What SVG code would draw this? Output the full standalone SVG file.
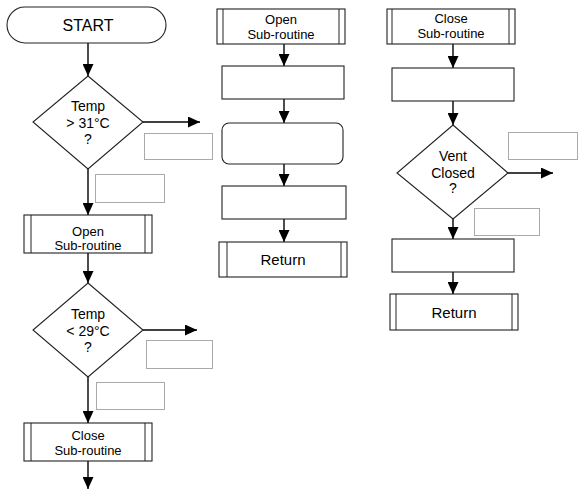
<svg xmlns="http://www.w3.org/2000/svg" width="584" height="494" viewBox="0 0 584 494">
<defs>
<marker id="ah" markerUnits="userSpaceOnUse" markerWidth="13" markerHeight="11" viewBox="0 0 13 11" refX="12" refY="5.5" orient="auto">
<path d="M0,0 L12,5.5 L0,11 Z" fill="#000"/>
</marker>
<style>
.b{fill:#fff;stroke:#222;stroke-width:1.1}
.in{stroke:#222;stroke-width:1}
.d{fill:none;stroke:#555;stroke-width:1;stroke-dasharray:1 1}
.c{fill:none;stroke:#000;stroke-width:1.4;marker-end:url(#ah)}
text{font-family:"Liberation Sans",Arial,sans-serif;fill:#000;text-anchor:middle}
.t14{font-size:14px}
.t13{font-size:13px}
.t15{font-size:15px}
.t16{font-size:16px}
</style>
</defs>
<rect width="584" height="494" fill="#fff"/>

<g id="connectors">
<line class="c" x1="88" y1="43" x2="88" y2="76"/>
<line class="c" x1="143" y1="122" x2="200" y2="122"/>
<line class="c" x1="88" y1="169" x2="88" y2="215"/>
<line class="c" x1="88" y1="253" x2="88" y2="283"/>
<line class="c" x1="143" y1="330" x2="197" y2="330"/>
<line class="c" x1="88" y1="377" x2="88" y2="423"/>
<line class="c" x1="88" y1="461" x2="88" y2="489"/>

<line class="c" x1="284" y1="44" x2="284" y2="66"/>
<line class="c" x1="284" y1="99" x2="284" y2="123"/>
<line class="c" x1="284" y1="164" x2="284" y2="186"/>
<line class="c" x1="284" y1="219" x2="284" y2="242"/>

<line class="c" x1="453" y1="44" x2="453" y2="68"/>
<line class="c" x1="453" y1="101" x2="453" y2="125"/>
<line class="c" x1="508" y1="173" x2="553" y2="173"/>
<line class="c" x1="453" y1="219" x2="453" y2="239"/>
<line class="c" x1="453" y1="272" x2="453" y2="294"/>
</g>

<g id="start">
<rect class="b" x="7" y="7" width="159" height="36" rx="18"/>
<text class="t16" x="88" y="31">START</text>
</g>

<g id="dec1">
<polygon class="b" points="88,76 143,122 88,169 33,122"/>
<text class="t14" x="88" y="111">Temp</text>
<text class="t14" x="88" y="128">&gt; 31°C</text>
<text class="t14" x="88" y="144">?</text>
</g>
<g id="lbl1r"><rect class="d" x="144.5" y="133.5" width="68" height="26"/></g>
<g id="lbl1b"><rect class="d" x="95.5" y="174.5" width="69" height="28"/></g>

<g id="open1">
<rect class="b" x="24" y="215" width="128" height="38"/>
<line class="in" x1="31" y1="215" x2="31" y2="253"/>
<line class="in" x1="145" y1="215" x2="145" y2="253"/>
<text class="t13" x="88" y="236">Open</text>
<text class="t13" x="88" y="250">Sub-routine</text>
</g>

<g id="dec2">
<polygon class="b" points="88,283 143,330 88,377 33,330"/>
<text class="t14" x="88" y="319">Temp</text>
<text class="t14" x="88" y="336">&lt; 29°C</text>
<text class="t14" x="88" y="352">?</text>
</g>
<g id="lbl2r"><rect class="d" x="146.5" y="340.5" width="66" height="28"/></g>
<g id="lbl2b"><rect class="d" x="96.5" y="382.5" width="68" height="27"/></g>

<g id="close1">
<rect class="b" x="24" y="423" width="128" height="38"/>
<line class="in" x1="31" y1="423" x2="31" y2="461"/>
<line class="in" x1="145" y1="423" x2="145" y2="461"/>
<text class="t13" x="88" y="440">Close</text>
<text class="t13" x="88" y="455">Sub-routine</text>
</g>

<g id="open2">
<rect class="b" x="217" y="9" width="128" height="35"/>
<line class="in" x1="223" y1="9" x2="223" y2="44"/>
<line class="in" x1="339" y1="9" x2="339" y2="44"/>
<text class="t13" x="281" y="24">Open</text>
<text class="t13" x="281" y="39">Sub-routine</text>
</g>
<g id="box2a"><rect class="b" x="222" y="66" width="122" height="33"/></g>
<g id="box2b"><rect class="b" x="222" y="123" width="121" height="41" rx="7"/></g>
<g id="box2c"><rect class="b" x="222" y="186" width="124" height="33"/></g>
<g id="return2">
<rect class="b" x="219" y="242" width="128" height="35"/>
<line class="in" x1="227" y1="242" x2="227" y2="277"/>
<line class="in" x1="341" y1="242" x2="341" y2="277"/>
<text class="t15" x="283" y="265">Return</text>
</g>

<g id="close2">
<rect class="b" x="387" y="9" width="128" height="35"/>
<line class="in" x1="392" y1="9" x2="392" y2="44"/>
<line class="in" x1="509" y1="9" x2="509" y2="44"/>
<text class="t13" x="451" y="23">Close</text>
<text class="t13" x="451" y="38">Sub-routine</text>
</g>
<g id="box3a"><rect class="b" x="392" y="68" width="122" height="33"/></g>
<g id="dec3">
<polygon class="b" points="453,125 508,173 453,219 397,173"/>
<text class="t14" x="453" y="161">Vent</text>
<text class="t14" x="453" y="178">Closed</text>
<text class="t14" x="453" y="193">?</text>
</g>
<g id="lbl3r"><rect class="d" x="508.5" y="132.5" width="69" height="27"/></g>
<g id="lbl3b"><rect class="d" x="474.5" y="208.5" width="65" height="27"/></g>
<g id="box3b"><rect class="b" x="392" y="239" width="122" height="33"/></g>
<g id="return3">
<rect class="b" x="390" y="294" width="128" height="36"/>
<line class="in" x1="396" y1="294" x2="396" y2="330"/>
<line class="in" x1="512" y1="294" x2="512" y2="330"/>
<text class="t15" x="454" y="318">Return</text>
</g>
</svg>
